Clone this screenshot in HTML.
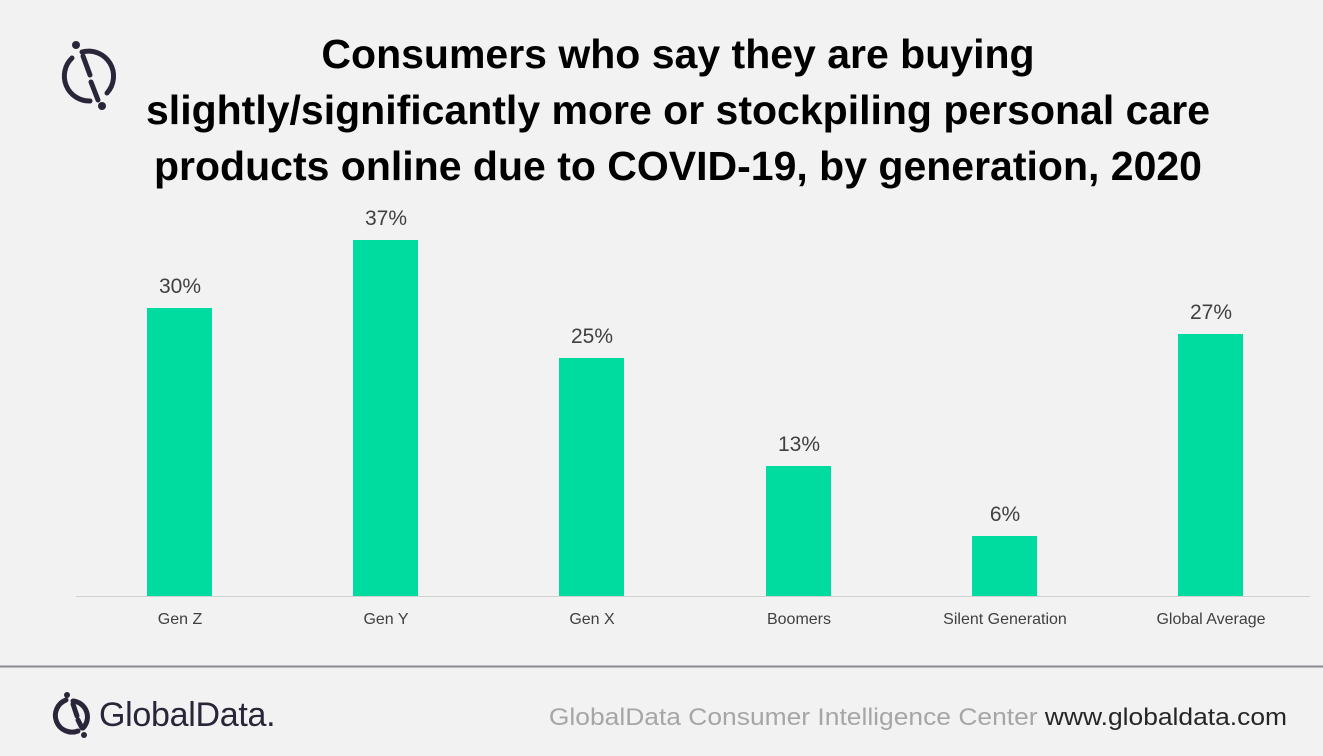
<!DOCTYPE html>
<html><head><meta charset="utf-8"><style>
body{margin:0;width:1323px;height:756px;background:#f2f2f2;position:relative;overflow:hidden;font-family:"Liberation Sans",sans-serif}
.t{position:absolute;left:50px;width:1256px;text-align:center;font-weight:bold;font-size:41px;color:#000;line-height:56px;top:26px;white-space:nowrap}
.bar{position:absolute;background:#00dca0;width:65px}
.v{position:absolute;width:120px;text-align:center;font-size:21px;color:#404040}
.c{position:absolute;width:200px;text-align:center;font-size:16px;color:#404040;top:611px}
</style></head><body>
<svg style="position:absolute;left:0;top:0" width="1323" height="756">
<g fill="none" stroke="#2a2538" stroke-width="5" stroke-linecap="round">
<path d="M72 58 A25 25 0 0 0 90 101"/><path d="M82 52 A25 25 0 0 1 107 93"/>
<path d="M83 56 L90 75"/><path d="M91 82 L98 100"/>
<path d="M66 700 A16 16 0 0 0 78 731"/><path d="M73 701 A16 16 0 0 1 83 728"/>
<path d="M73 704 L77 716"/><path d="M78 720 L82 728"/>
</g>
<circle cx="76" cy="45" r="4" fill="#2a2538"/><circle cx="102" cy="106" r="4" fill="#2a2538"/>
<circle cx="67" cy="695" r="3" fill="#2a2538"/><circle cx="84" cy="735" r="3" fill="#2a2538"/>
<line x1="76" y1="596.5" x2="1310" y2="596.5" stroke="#d0d0d0" stroke-width="1"/>
<line x1="0" y1="666.5" x2="1323" y2="666.5" stroke="#8a8a94" stroke-width="2"/>
</svg>
<div class="t">Consumers who say they are buying<br>slightly/significantly more or stockpiling personal care<br>products online due to COVID-19, by generation, 2020</div>
<div class="bar" style="left:147px;top:308px;height:288px"></div>
<div class="bar" style="left:353px;top:240px;height:356px"></div>
<div class="bar" style="left:559px;top:358px;height:238px"></div>
<div class="bar" style="left:766px;top:466px;height:130px"></div>
<div class="bar" style="left:972px;top:536px;height:60px"></div>
<div class="bar" style="left:1178px;top:334px;height:262px"></div>
<div class="v" style="left:120px;top:275px">30%</div>
<div class="v" style="left:326px;top:207px">37%</div>
<div class="v" style="left:532px;top:325px">25%</div>
<div class="v" style="left:739px;top:433px">13%</div>
<div class="v" style="left:945px;top:503px">6%</div>
<div class="v" style="left:1151px;top:301px">27%</div>
<div class="c" style="left:80px">Gen Z</div>
<div class="c" style="left:286px">Gen Y</div>
<div class="c" style="left:492px">Gen X</div>
<div class="c" style="left:699px">Boomers</div>
<div class="c" style="left:905px">Silent Generation</div>
<div class="c" style="left:1111px">Global Average</div>
<div style="position:absolute;left:99px;top:696px;font-size:34px;color:#2a2538;letter-spacing:-0.3px">GlobalData.</div>
<div style="position:absolute;right:36px;top:704px;font-size:24px;color:#a6a6a6;transform:scaleX(1.1);transform-origin:right top;white-space:nowrap">GlobalData Consumer Intelligence Center <span style="color:#262626">www.globaldata.com</span></div>
</body></html>
